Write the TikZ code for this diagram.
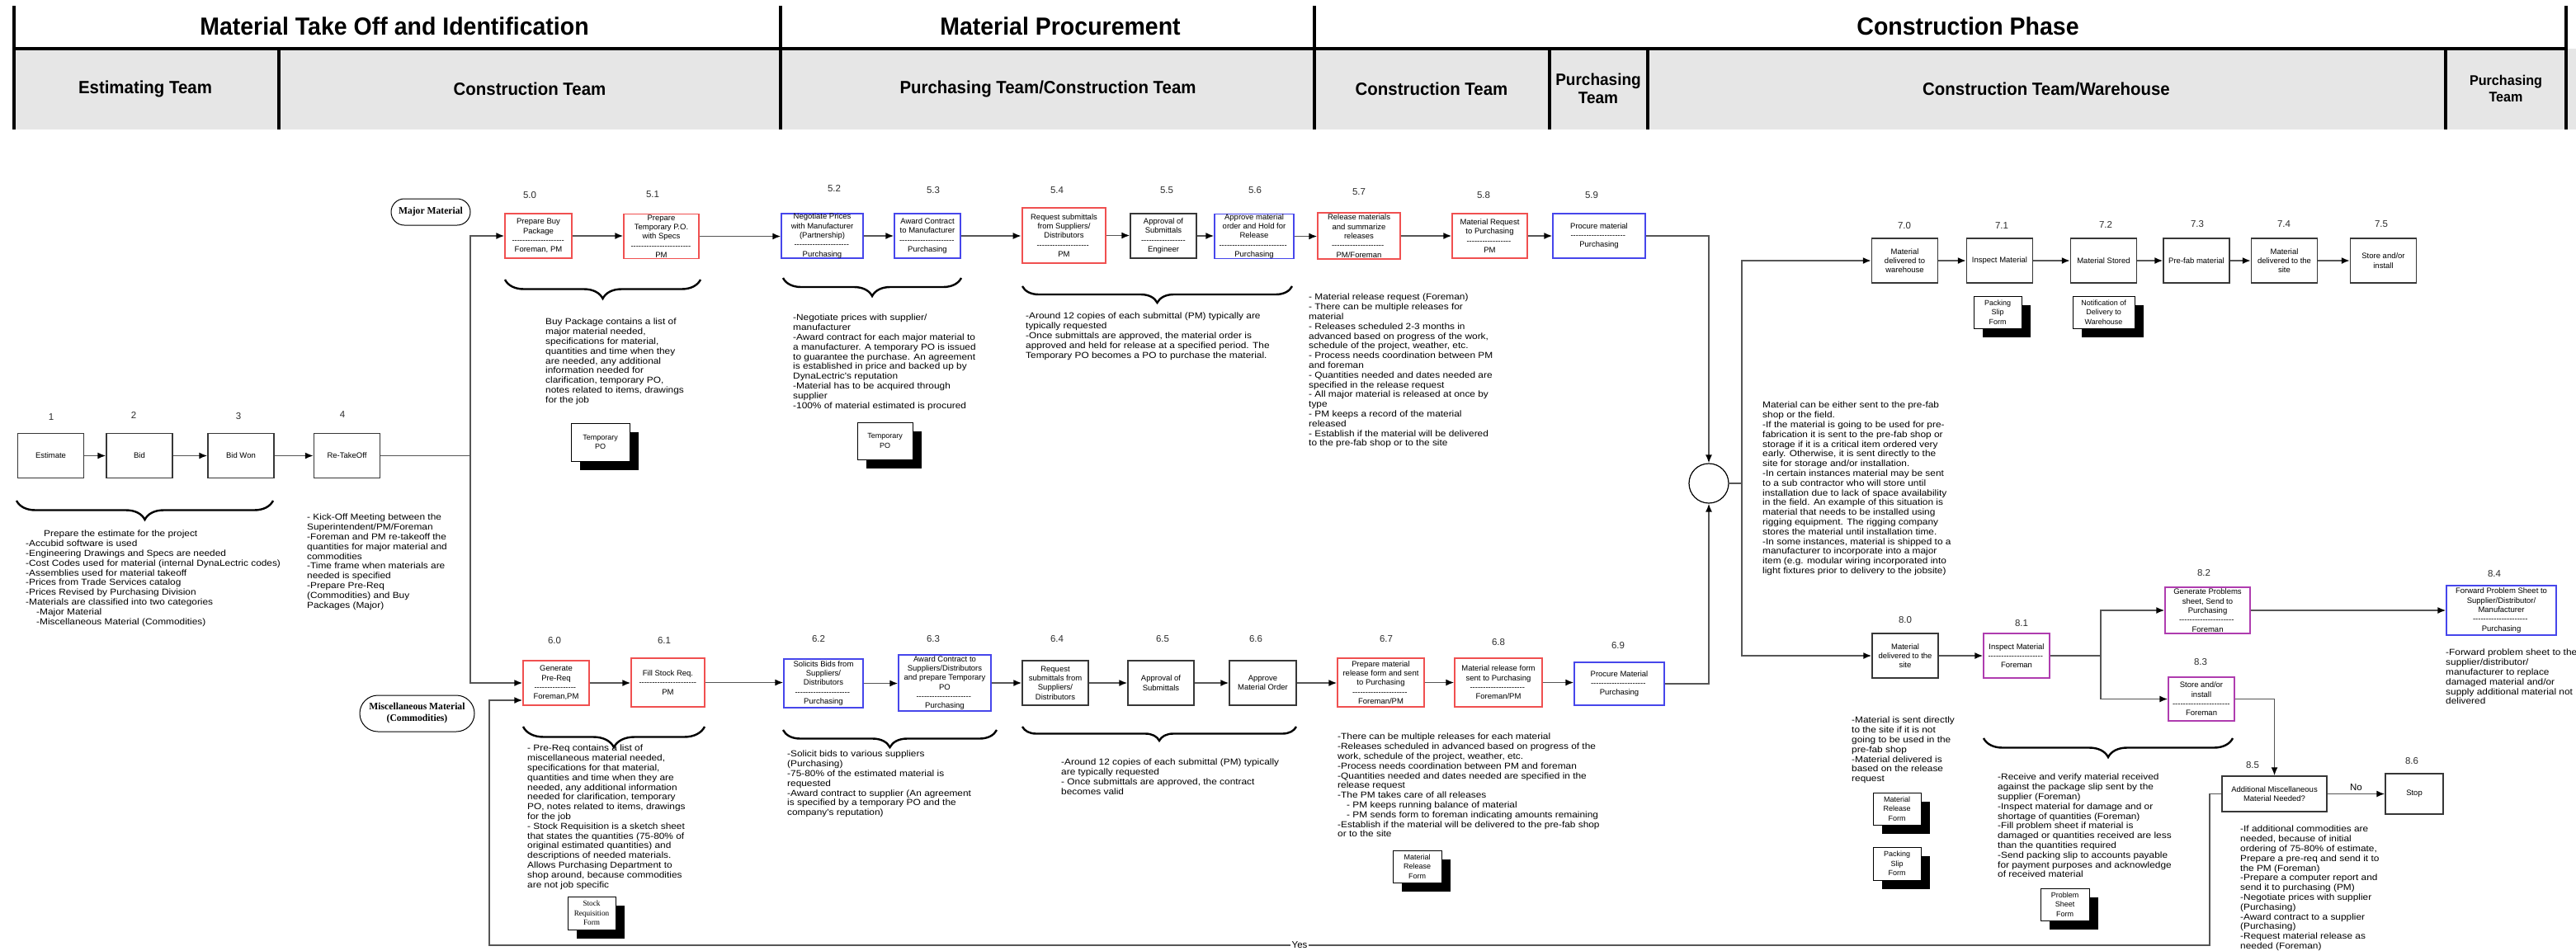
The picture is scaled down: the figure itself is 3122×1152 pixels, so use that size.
\documentclass[tikz,border=0pt]{standalone}
\usepackage{fontspec}
\setmainfont{Liberation Sans}
\newfontfamily\bodyf[FakeStretch=1.12]{Liberation Sans}
\newfontfamily\headf[FakeStretch=0.95]{Liberation Sans}
\newfontfamily\pillf[FakeStretch=0.97]{Liberation Serif}
\usetikzlibrary{arrows.meta,decorations.pathreplacing,shadows}
\definecolor{bandgray}{RGB}{230,230,230}
\definecolor{cred}{RGB}{240,80,80}
\definecolor{cblue}{RGB}{70,70,235}
\definecolor{cpurple}{RGB}{175,60,175}
\definecolor{cblack}{RGB}{55,55,55}
\definecolor{cline}{RGB}{85,85,85}
\definecolor{cnum}{RGB}{45,45,45}
\newcommand\dsep[1]{\hbox to #1pt{\leaders\hbox{-}\hfill}}
\begin{document}
\begin{tikzpicture}[x=1pt,y=-1pt,
 boxk/.style={draw=cblack, line width=1.4pt, fill=white, inner sep=0pt, align=center, font=\fontsize{9.5}{11.3}\selectfont, minimum width=80pt, minimum height=54pt},
 boxr/.style={boxk, draw=cred},
 boxb/.style={boxk, draw=cblue},
 boxp/.style={boxk, draw=cpurple},
 numlbl/.style={font=\fontsize{11.5}{13}\selectfont, text=cnum, inner sep=0pt},
 note/.style={anchor=north west, align=left, inner sep=0pt, font=\bodyf\fontsize{10.6}{11.8}\selectfont},
 doc/.style={draw=black, line width=1pt, fill=white, minimum width=58pt, minimum height=39pt, inner sep=0pt, align=center, font=\fontsize{9}{11.3}\selectfont, drop shadow={shadow xshift=11pt, shadow yshift=-11pt, fill=black, opacity=1}},
 pill/.style={draw=black, line width=1pt, fill=white, inner sep=0pt, align=center, font=\pillf\bfseries\fontsize{12}{14}\selectfont},
 conn/.style={draw=cline, line width=1.6pt},
 conna/.style={conn, -{Latex[length=10pt,width=8pt,color=black]}},
 curly/.style={decorate, draw=black, line width=2.4pt},
 headtxt/.style={font=\headf\bfseries\fontsize{30}{36}\selectfont, anchor=base, inner sep=0pt},
 teamtxt/.style={font=\headf\bfseries\fontsize{21.5}{24}\selectfont, align=center, inner sep=0pt},
 hdrline/.style={line width=3.5pt, draw=black},
 lbl/.style={font=\fontsize{11.5}{13}\selectfont, inner sep=1.5pt}
]
\useasboundingbox (0,0) rectangle (3122,1152);
\fill[white] (0,0) rectangle (3122,1152);

% ---------- header ----------
\fill[bandgray] (17,59) rectangle (3122,157);
\draw[hdrline] (17,59) -- (3110,59);
\draw[hdrline] (17,7) -- (17,157);
\draw[hdrline] (946,7) -- (946,157);
\draw[hdrline] (1593,7) -- (1593,157);
\draw[hdrline] (3110,7) -- (3110,157);
\draw[hdrline] (338,59) -- (338,157);
\draw[hdrline] (1878,59) -- (1878,157);
\draw[hdrline] (1997,59) -- (1997,157);
\draw[hdrline] (2964,59) -- (2964,157);
\node[headtxt] (h1) at (478,42) {Material Take Off and Identification};
\node[headtxt] (h2) at (1285,42) {Material Procurement};
\node[headtxt] (h3) at (2385,42) {Construction Phase};
\node[teamtxt] (tm1) at (176,108) {Estimating Team};
\node[teamtxt] (tm2) at (642,108) {Construction Team};
\node[teamtxt] (tm3) at (1270,108) {Purchasing Team/Construction Team};
\node[teamtxt] (tm4) at (1735,108) {Construction Team};
\node[teamtxt, font=\headf\bfseries\fontsize{20}{22}\selectfont] (tm5) at (1937,107) {Purchasing\\Team};
\node[teamtxt] (tm6) at (2480,108) {Construction Team/Warehouse};
\node[teamtxt, font=\headf\bfseries\fontsize{17}{20}\selectfont] (tm7) at (3037,107) {Purchasing\\Team};

% ---------- steps 1-4 ----------
\node[boxk] (n1) at (61.5,552.5) {Estimate};
\node[boxk] (n2) at (169,552.5) {Bid};
\node[boxk] (n3) at (292,552.5) {Bid Won};
\node[boxk] (n4) at (420.5,552.5) {Re-TakeOff};
\node[numlbl] (l1) at (62,506) {1};
\node[numlbl] (l2) at (162,503) {2};
\node[numlbl] (l3) at (289,505) {3};
\node[numlbl] (l4) at (415,503) {4};

% ---------- pills ----------
\node[pill, minimum width=96pt, minimum height=32pt, rounded corners=16pt] (mm) at (522,257) {Major Material};
\node[pill, minimum width=139pt, minimum height=44pt, rounded corners=22pt] (misc) at (505.5,865) {Miscellaneous Material\\(Commodities)};

% ---------- row 5 ----------
\node[boxr, minimum width=81pt] (b50) at (652.5,286) {Prepare Buy\\Package\\\dsep{64}\\Foreman, PM};
\node[boxr, minimum width=91pt] (b51) at (801.5,286.5) {Prepare\\Temporary P.O.\\with Specs\\\dsep{74}\\PM};
\node[boxb, minimum width=99pt] (b52) at (996.5,286) {Negotiate Prices\\with Manufacturer\\(Partnership)\\\dsep{68}\\Purchasing};
\node[boxb] (b53) at (1124,286) {Award Contract\\to Manufacturer\\\dsep{68}\\Purchasing};
\node[boxr, line width=2.6pt, minimum width=101pt, minimum height=67pt] (b54) at (1289.5,285.5) {Request submittals\\from Suppliers/\\Distributors\\\dsep{66}\\PM};
\node[boxk] (b55) at (1410,286) {Approval of\\Submittals\\\dsep{54}\\Engineer};
\node[boxb, minimum width=96pt] (b56) at (1520,286.5) {Approve material\\order and Hold for\\Release\\\dsep{85}\\Purchasing};
\node[boxr, minimum width=100pt, minimum height=56pt] (b57) at (1647,286) {Release materials\\and summarize\\releases\\\dsep{66}\\PM/Foreman};
\node[boxr, minimum width=91pt] (b58) at (1805.5,286) {Material Request\\to Purchasing\\\dsep{56}\\PM};
\node[boxb, minimum width=112pt] (b59) at (1938,286) {Procure material\\\dsep{69}\\Purchasing};
\node[numlbl] (l50) at (642,237) {5.0};
\node[numlbl] (l51) at (791,236) {5.1};
\node[numlbl] (l52) at (1011,229) {5.2};
\node[numlbl] (l53) at (1131,231) {5.3};
\node[numlbl] (l54) at (1281,231) {5.4};
\node[numlbl] (l55) at (1414,231) {5.5};
\node[numlbl] (l56) at (1521,231) {5.6};
\node[numlbl] (l57) at (1647,233) {5.7};
\node[numlbl] (l58) at (1798,237) {5.8};
\node[numlbl] (l59) at (1929,237) {5.9};

% ---------- row 7 ----------
\node[boxk] (b70) at (2308.5,316) {Material\\delivered to\\warehouse};
\node[boxk] (b71) at (2423.5,316) {Inspect Material};
\node[boxk] (b72) at (2549.5,316) {Material Stored};
\node[boxk] (b73) at (2662,316) {Pre-fab material};
\node[boxk] (b74) at (2768.5,316) {Material\\delivered to the\\site};
\node[boxk] (b75) at (2888.5,316) {Store and/or\\install};
\node[numlbl] (l70) at (2308,274) {7.0};
\node[numlbl] (l71) at (2426,274) {7.1};
\node[numlbl] (l72) at (2552,272) {7.2};
\node[numlbl] (l73) at (2663,272) {7.3};
\node[numlbl] (l74) at (2768,272) {7.4};
\node[numlbl] (l75) at (2886,272) {7.5};

% ---------- row 6 ----------
\node[boxr] (b60) at (674,828) {Generate\\Pre-Req\\\dsep{53}\\Foreman,PM};
\node[boxr, minimum width=89pt, minimum height=59pt] (b61) at (809.5,827.5) {Fill Stock Req.\\\dsep{70}\\PM};
\node[boxb, minimum width=96pt, minimum height=59pt] (b62) at (998,828.5) {Solicits Bids from\\Suppliers/\\Distributors\\\dsep{69}\\Purchasing};
\node[boxb, minimum width=112pt, minimum height=68pt] (b63) at (1145,828) {Award Contract to\\Suppliers/Distributors\\and prepare Temporary\\PO\\\dsep{69}\\Purchasing};
\node[boxk] (b64) at (1279,828) {Request\\submittals from\\Suppliers/\\Distributors};
\node[boxk] (b65) at (1407,828) {Approval of\\Submittals};
\node[boxk, minimum width=81pt] (b66) at (1530.5,828) {Approve\\Material Order};
\node[boxr, minimum width=105pt, minimum height=59pt] (b67) at (1673.5,827.5) {Prepare material\\release form and sent\\to Purchasing\\\dsep{69}\\Foreman/PM};
\node[boxr, minimum width=106pt, minimum height=59pt] (b68) at (1816,827.5) {Material release form\\sent to Purchasing\\\dsep{69}\\Foreman/PM};
\node[boxb, minimum width=109pt, minimum height=52pt] (b69) at (1962.5,829) {Procure Material\\\dsep{69}\\Purchasing};
\node[numlbl] (l60) at (672,777) {6.0};
\node[numlbl] (l61) at (805,777) {6.1};
\node[numlbl] (l62) at (992,775) {6.2};
\node[numlbl] (l63) at (1131,775) {6.3};
\node[numlbl] (l64) at (1281,775) {6.4};
\node[numlbl] (l65) at (1409,775) {6.5};
\node[numlbl] (l66) at (1522,775) {6.6};
\node[numlbl] (l67) at (1680,775) {6.7};
\node[numlbl] (l68) at (1816,779) {6.8};
\node[numlbl] (l69) at (1961,783) {6.9};

% ---------- row 8 ----------
\node[boxk] (b80) at (2309,795) {Material\\delivered to the\\site};
\node[boxp] (b81) at (2444,795) {Inspect Material\\\dsep{69}\\Foreman};
\node[boxp, minimum width=103pt, minimum height=56pt] (b82) at (2675.5,740) {Generate Problems\\sheet, Send to\\Purchasing\\\dsep{69}\\Foreman};
\node[boxp, minimum height=53pt] (b83) at (2668,847.5) {Store and/or\\install\\\dsep{70}\\Foreman};
\node[boxb, minimum width=133pt, minimum height=60pt] (b84) at (3031.5,740) {Forward Problem Sheet to\\Supplier/Distributor/\\Manufacturer\\\dsep{69}\\Purchasing};
\node[boxk, minimum width=127pt, minimum height=43pt] (b85) at (2756.5,962.5) {Additional Miscellaneous\\Material Needed?};
\node[boxk, minimum width=70pt, minimum height=49pt] (b86) at (2926,962.5) {Stop};
\node[numlbl] (l80) at (2309,752) {8.0};
\node[numlbl] (l81) at (2450,756) {8.1};
\node[numlbl] (l82) at (2671,695) {8.2};
\node[numlbl] (l83) at (2667,803) {8.3};
\node[numlbl] (l84) at (3023,696) {8.4};
\node[numlbl] (l85) at (2730,928) {8.5};
\node[numlbl] (l86) at (2923,923) {8.6};

% ---------- hub ----------
\node[circle, draw=black, line width=1.2pt, fill=white, minimum size=48pt, inner sep=0pt] (hub) at (2071,586) {};

% ---------- documents ----------
\node[doc, minimum width=71pt, minimum height=46pt] (tpo1) at (727.5,536) {Temporary\\PO};
\node[doc, minimum width=67pt, minimum height=45pt] (tpo2) at (1072.5,534.5) {Temporary\\PO};
\node[doc] (psf1) at (2421,378.5) {Packing\\Slip\\Form};
\node[doc, minimum width=75pt] (ndw) at (2549.5,378.5) {Notification of\\Delivery to\\Warehouse};
\node[doc, font=\pillf\fontsize{9.5}{11.5}\selectfont, minimum height=40pt] (srf) at (717,1107) {Stock\\Requisition\\Form};
\node[doc, minimum width=59pt] (mrf1) at (1717.5,1050.5) {Material\\Release\\Form};
\node[doc] (mrf2) at (2299,980.5) {Material\\Release\\Form};
\node[doc, minimum height=40pt] (psf2) at (2299,1047) {Packing\\Slip\\Form};
\node[doc, minimum width=59pt] (psf3) at (2502.5,1096.5) {Problem\\Sheet\\Form};

% ---------- connectors ----------
\coordinate (jn) at (570,552.5);
\coordinate (hubR) at (2111,586);
\coordinate (j81) at (2546,795);
\coordinate (ya) at (2678,1146);
\coordinate (yb) at (593,1146);
\coordinate (yc) at (593,849);
\draw[conna] (n1.east) -- (n2.west);
\draw[conna] (n2.east) -- (n3.west);
\draw[conna] (n3.east) -- (n4.west);
\draw[conn] (n4.east) -- (jn);
\draw[conna] (jn) |- (b50.west);
\draw[conna] (jn) |- (b60.west);
\draw[conna] (b50.east) -- (b50.east -| b51.west);
\draw[conna] (b51.east) -- (b51.east -| b52.west);
\draw[conna] (b52.east) -- (b52.east -| b53.west);
\draw[conna] (b53.east) -- (b53.east -| b54.west);
\draw[conna] (b54.east) -- (b54.east -| b55.west);
\draw[conna] (b55.east) -- (b55.east -| b56.west);
\draw[conna] (b56.east) -- (b56.east -| b57.west);
\draw[conna] (b57.east) -- (b57.east -| b58.west);
\draw[conna] (b58.east) -- (b58.east -| b59.west);
\draw[conna] (b59.east) -| (hub.north);
\draw[conna] (b60.east) -- (b60.east -| b61.west);
\draw[conna] (b61.east) -- (b61.east -| b62.west);
\draw[conna] (b62.east) -- (b62.east -| b63.west);
\draw[conna] (b63.east) -- (b63.east -| b64.west);
\draw[conna] (b64.east) -- (b64.east -| b65.west);
\draw[conna] (b65.east) -- (b65.east -| b66.west);
\draw[conna] (b66.east) -- (b66.east -| b67.west);
\draw[conna] (b67.east) -- (b67.east -| b68.west);
\draw[conna] (b68.east) -- (b68.east -| b69.west);
\draw[conna] (b69.east) -| (hub.south);
\draw[conn] (hub.east) -- (hubR);
\draw[conna] (hubR) |- (b70.west);
\draw[conna] (hubR) |- (b80.west);
\draw[conna] (b70.east) -- (b71.west);
\draw[conna] (b71.east) -- (b72.west);
\draw[conna] (b72.east) -- (b73.west);
\draw[conna] (b73.east) -- (b74.west);
\draw[conna] (b74.east) -- (b75.west);
\draw[conna] (b80.east) -- (b81.west);
\draw[conn] (b81.east) -- (j81);
\draw[conna] (j81) |- (b82.west);
\draw[conna] (j81) |- (b83.west);
\draw[conna] (b82.east) -- (b82.east -| b84.west);
\draw[conna] (b83.east) -| (b85.north);
\draw[conna] (b85.east) -- (b85.east -| b86.west) node[midway, above=3pt, lbl, inner sep=0pt] (no) {No};
\draw[conna] (b85.west) -| (ya) -- (yb) -- (yc) -- (yc -| b60.west);
\node[lbl, fill=white] (yes) at (1575,1146) {Yes};

% ---------- braces ----------
\draw[curly, decoration={brace, mirror, amplitude=23pt}] (20,607) -- (331,607);
\draw[curly, decoration={brace, mirror, amplitude=23pt}] (612,339) -- (849,339);
\draw[curly, decoration={brace, mirror, amplitude=22pt}] (949,337) -- (1165,337);
\draw[curly, decoration={brace, mirror, amplitude=20pt}] (1239,347) -- (1566,347);
\draw[curly, decoration={brace, mirror, amplitude=25pt}] (634,881) -- (854,881);
\draw[curly, decoration={brace, mirror, amplitude=21pt}] (949,885) -- (1208,885);
\draw[curly, decoration={brace, mirror, amplitude=17pt}] (1239,881) -- (1571,881);
\draw[curly, decoration={brace, mirror, amplitude=23pt}] (2404,895) -- (2706,895);

% ---------- notes ----------
\node[note] (t1) at (31,643) {\hspace*{22pt}Prepare the estimate for the project\\-Accubid software is used\\-Engineering Drawings and Specs are needed\\-Cost Codes used for material (internal DynaLectric codes)\\-Assemblies used for material takeoff\\-Prices from Trade Services catalog\\-Prices Revised by Purchasing Division\\-Materials are classified into two categories\\\hspace*{13pt}-Major Material\\\hspace*{13pt}-Miscellaneous Material (Commodities)};
\node[note] (t2) at (372,623) {- Kick-Off Meeting between the\\Superintendent/PM/Foreman\\-Foreman and PM re-takeoff the\\quantities for major material and\\commodities\\-Time frame when materials are\\needed is specified\\-Prepare Pre-Req\\(Commodities) and Buy\\Packages (Major)};
\node[note] (t3) at (661,386) {Buy Package contains a list of\\major material needed,\\specifications for material,\\quantities and time when they\\are needed, any additional\\information needed for\\clarification, temporary PO,\\notes related to items, drawings\\for the job};
\node[note] (t4) at (961,381) {-Negotiate prices with supplier/\\manufacturer\\-Award contract for each major material to\\a manufacturer. A temporary PO is issued\\to guarantee the purchase. An agreement\\is established in price and backed up by\\DynaLectric's reputation\\-Material has to be acquired through\\supplier\\-100\% of material estimated is procured};
\node[note] (t5) at (1243,379) {-Around 12 copies of each submittal (PM) typically are\\typically requested\\-Once submittals are approved, the material order is\\approved and held for release at a specified period. The\\Temporary PO becomes a PO to purchase the material.};
\node[note] (t6) at (1586,356) {- Material release request (Foreman)\\- There can be multiple releases for\\material\\- Releases scheduled 2-3 months in\\advanced based on progress of the work,\\schedule of the project, weather, etc.\\- Process needs coordination between PM\\and foreman\\- Quantities needed and dates needed are\\specified in the release request\\- All major material is released at once by\\type\\- PM keeps a record of the material\\released\\- Establish if the material will be delivered\\to the pre-fab shop or to the site};
\node[note] (t7) at (2136,487) {Material can be either sent to the pre-fab\\shop or the field.\\-If the material is going to be used for pre-\\fabrication it is sent to the pre-fab shop or\\storage if it is a critical item ordered very\\early. Otherwise, it is sent directly to the\\site for storage and/or installation.\\-In certain instances material may be sent\\to a sub contractor who will store until\\installation due to lack of space availability\\in the field. An example of this situation is\\material that needs to be installed using\\rigging equipment. The rigging company\\stores the material until installation time.\\-In some instances, material is shipped to a\\manufacturer to incorporate into a major\\item (e.g. modular wiring incorporated into\\light fixtures prior to delivery to the jobsite)};
\node[note] (t8) at (639,903) {- Pre-Req contains a list of\\miscellaneous material needed,\\specifications for that material,\\quantities and time when they are\\needed, any additional information\\needed for clarification, temporary\\PO, notes related to items, drawings\\for the job\\- Stock Requisition is a sketch sheet\\that states the quantities (75-80\% of\\original estimated quantities) and\\descriptions of needed materials.\\Allows Purchasing Department to\\shop around, because commodities\\are not job specific};
\node[note] (t9) at (954,910) {-Solicit bids to various suppliers\\(Purchasing)\\-75-80\% of the estimated material is\\requested\\-Award contract to supplier (An agreement\\is specified by a temporary PO and the\\company's reputation)};
\node[note] (t10) at (1286,920) {-Around 12 copies of each submittal (PM) typically\\are typically requested\\- Once submittals are approved, the contract\\becomes valid};
\node[note] (t11) at (1621,889) {-There can be multiple releases for each material\\-Releases scheduled in advanced based on progress of the\\work, schedule of the project, weather, etc.\\-Process needs coordination between PM and foreman\\-Quantities needed and dates needed are specified in the\\release request\\-The PM takes care of all releases\\\hspace*{11pt}- PM keeps running balance of material\\\hspace*{11pt}- PM sends form to foreman indicating amounts remaining\\-Establish if the material will be delivered to the pre-fab shop\\or to the site};
\node[note] (t12) at (2244,869) {-Material is sent directly\\to the site if it is not\\going to be used in the\\pre-fab shop\\-Material delivered is\\based on the release\\request};
\node[note] (t13) at (2421,938) {-Receive and verify material received\\against the package slip sent by the\\supplier (Foreman)\\-Inspect material for damage and or\\shortage of quantities (Foreman)\\-Fill problem sheet if material is\\damaged or quantities received are less\\than the quantities required\\-Send packing slip to accounts payable\\for payment purposes and acknowledge\\of received material};
\node[note] (t14) at (2715,1001) {-If additional commodities are\\needed, because of initial\\ordering of 75-80\% of estimate,\\Prepare a pre-req and send it to\\the PM (Foreman)\\-Prepare a computer report and\\send it to purchasing (PM)\\-Negotiate prices with supplier\\(Purchasing)\\-Award contract to a supplier\\(Purchasing)\\-Request material release as\\needed (Foreman)};
\node[note] (t15) at (2964,787) {-Forward problem sheet to the\\supplier/distributor/\\manufacturer to replace\\damaged material and/or\\supply additional material not\\delivered};
\end{tikzpicture}
\end{document}
